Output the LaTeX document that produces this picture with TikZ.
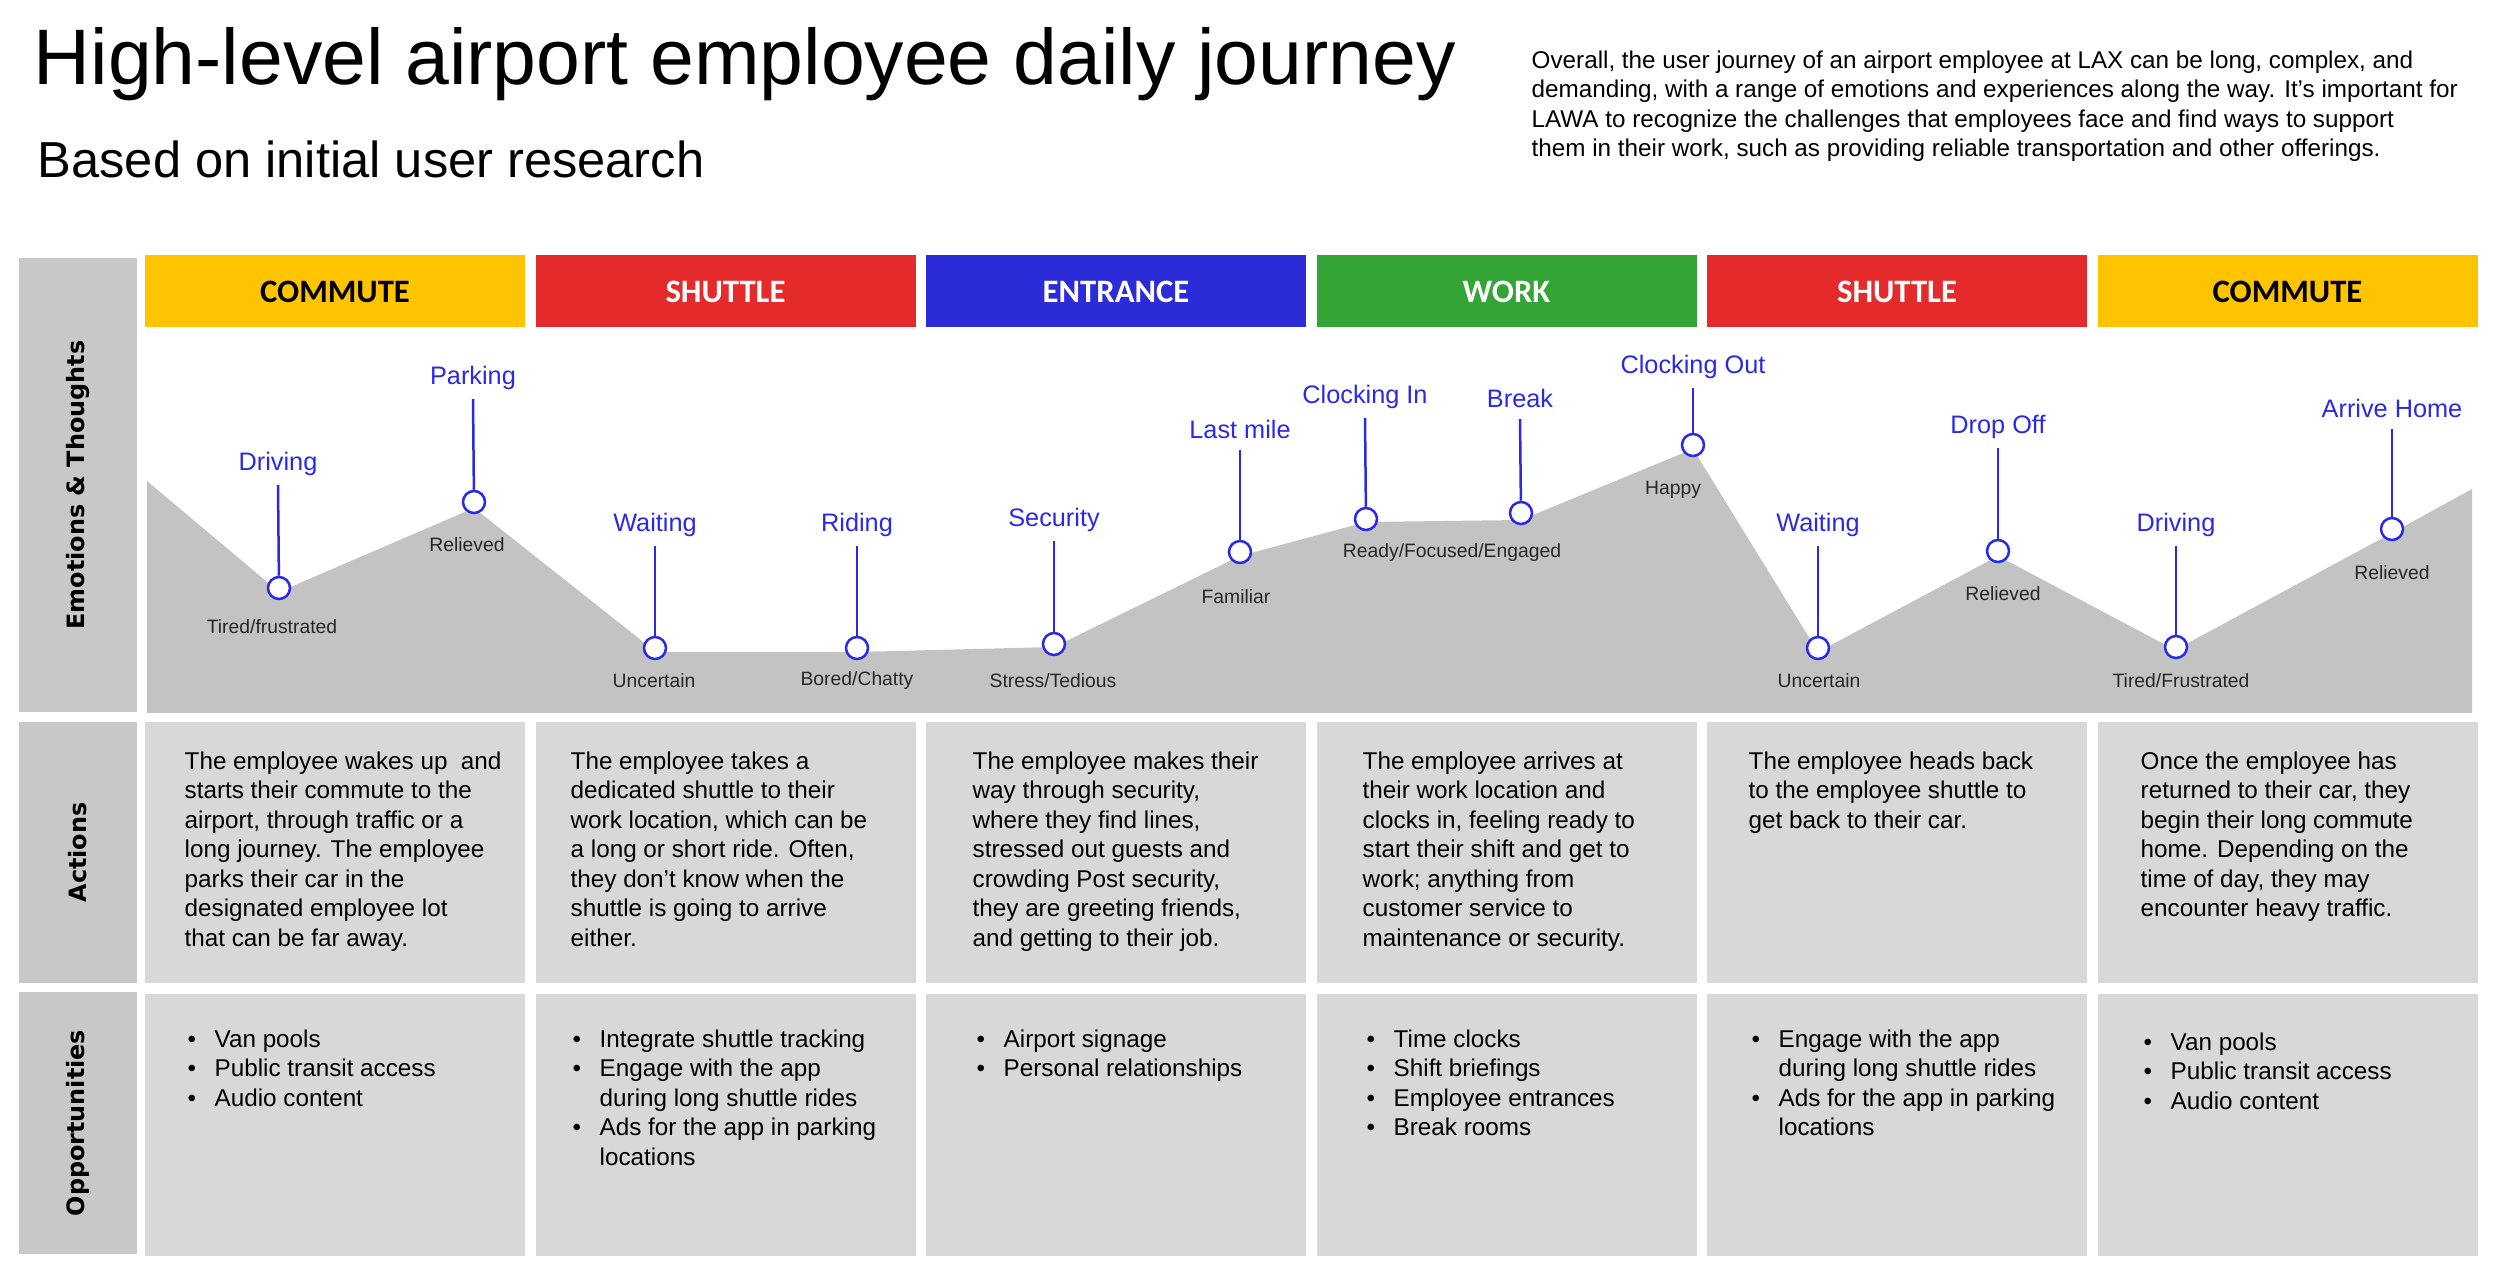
\documentclass[tikz,border=0pt]{standalone}
\usepackage{fontspec}
\setmainfont{Liberation Sans}
\newfontfamily\hdrfont{Carlito}
\newfontfamily\sidefont{DejaVu Sans}
\usetikzlibrary{calc}

\definecolor{cyellow}{HTML}{FFC400}
\definecolor{cred}{HTML}{E52A2C}
\definecolor{cblue}{HTML}{2B2BD8}
\definecolor{cgreen}{HTML}{34A436}
\definecolor{lblue}{HTML}{2A2AE6}
\definecolor{sidegrey}{HTML}{C8C8C8}
\definecolor{cellgrey}{HTML}{D8D8D8}
\definecolor{chartgrey}{HTML}{C3C3C3}

\begin{document}
\begin{tikzpicture}[x=0.1mm,y=-0.1mm,inner sep=0pt,
  hdr/.style={minimum width=38mm,minimum height=7.2mm,font=\hdrfont\bfseries\fontsize{9.3}{10}\selectfont},
  side/.style={fill=sidegrey,rotate=90,minimum height=11.8mm,font=\sidefont\bfseries\fontsize{6.8}{8}\selectfont},
  cell/.style={fill=cellgrey,minimum width=38mm,minimum height=26.15mm},
  txt/.style={anchor=north west,font=\fontsize{6.9}{8.4}\selectfont},
  lbl/.style={text=lblue,font=\fontsize{7.2}{8}\selectfont},
  emo/.style={text=black!85,font=\fontsize{5.5}{6}\selectfont},
  dot/.style={circle,draw=lblue,fill=white,line width=0.25mm,minimum size=2.2mm},
  stem/.style={draw=lblue,line width=0.25mm}]
\useasboundingbox (0,0) rectangle (2500,1287);

\node[anchor=base west,font=\fontsize{22.4}{26}\selectfont] (title) at (33,85) {High-level airport employee daily journey};
\node[anchor=base west,font=\fontsize{14.4}{16}\selectfont] (sub) at (37,178) {Based on initial user research};
\node[txt] (intro) at (1531,47) {\begin{tabular}{@{}l@{}}
Overall, the user journey of an airport employee at LAX can be long, complex, and\\
demanding, with a range of emotions and experiences along the way. It’s important for\\
LAWA to recognize the challenges that employees face and find ways to support\\
them in their work, such as providing reliable transportation and other offerings.\end{tabular}};

\node[side,minimum width=45.4mm] (s1) at (78,485) {Emotions \& Thoughts};
\node[side,minimum width=26.1mm] (s2) at (78,852.5) {Actions};
\node[side,minimum width=26.2mm] (s3) at (78,1123) {Opportunities};

\node[hdr,fill=cyellow] (h1) at (335,291.5) {COMMUTE};
\node[hdr,fill=cred,text=white] (h2) at (725.5,291.5) {SHUTTLE};
\node[hdr,fill=cblue,text=white] (h3) at (1116,291.5) {ENTRANCE};
\node[hdr,fill=cgreen,text=white] (h4) at (1506.5,291.5) {WORK};
\node[hdr,fill=cred,text=white] (h5) at (1897,291.5) {SHUTTLE};
\node[hdr,fill=cyellow] (h6) at (2287.5,291.5) {COMMUTE};

\fill[chartgrey] (147,481) -- (279,592) -- (474,508) -- (656,652) -- (856,652) -- (1054,647)
  -- (1240,556) -- (1366,522) -- (1521,520) -- (1693,449) -- (1818,652) -- (1998,556)
  -- (2175,650) -- (2392,533) -- (2472,489) -- (2472,713) -- (147,713) -- cycle;

\node[dot] (d1) at (279,588) {};
\node[dot] (d2) at (474,502) {};
\node[dot] (d3) at (655,648) {};
\node[dot] (d4) at (857,648) {};
\node[dot] (d5) at (1054,644) {};
\node[dot] (d6) at (1240,552) {};
\node[dot] (d7) at (1366,519) {};
\node[dot] (d8) at (1521,513) {};
\node[dot] (d9) at (1693,445) {};
\node[dot] (d10) at (1818,648) {};
\node[dot] (d11) at (1998,551) {};
\node[dot] (d12) at (2176,647) {};
\node[dot] (d13) at (2392,529) {};

\node[lbl] (l1) at (278,464) {Driving};
\node[lbl] (l2) at (473,378) {Parking};
\node[lbl] (l3) at (655,525) {Waiting};
\node[lbl] (l4) at (857,525) {Riding};
\node[lbl] (l5) at (1054,520) {Security};
\node[lbl] (l6) at (1240,429) {Last mile};
\node[lbl] (l7) at (1365,397) {Clocking In};
\node[lbl] (l8) at (1520,398) {Break};
\node[lbl] (l9) at (1693,367) {Clocking Out};
\node[lbl] (l10) at (1818,525) {Waiting};
\node[lbl] (l11) at (1998,427) {Drop Off};
\node[lbl] (l12) at (2176,525) {Driving};
\node[lbl] (l13) at (2392,408) {Arrive Home};

\draw[stem] ($(l1)+(0,21)$) -- (d1);
\draw[stem] ($(l2)+(0,21)$) -- (d2);
\draw[stem] ($(l3)+(0,21)$) -- (d3);
\draw[stem] ($(l4)+(0,21)$) -- (d4);
\draw[stem] ($(l5)+(0,21)$) -- (d5);
\draw[stem] ($(l6)+(0,21)$) -- (d6);
\draw[stem] ($(l7)+(0,21)$) -- (d7);
\draw[stem] ($(l8)+(0,21)$) -- (d8);
\draw[stem] ($(l9)+(0,21)$) -- (d9);
\draw[stem] ($(l10)+(0,21)$) -- (d10);
\draw[stem] ($(l11)+(0,21)$) -- (d11);
\draw[stem] ($(l12)+(0,21)$) -- (d12);
\draw[stem] ($(l13)+(0,21)$) -- (d13);

\node[emo] (e1) at (272,627) {Tired/frustrated};
\node[emo] (e2) at (467,545) {Relieved};
\node[emo] (e3) at (654,681) {Uncertain};
\node[emo] (e4) at (857,681) {Bored/Chatty};
\node[emo] (e5) at (1053,681) {Stress/Tedious};
\node[emo] (e6) at (1236,597) {Familiar};
\node[emo] (e7) at (1452,553) {Ready/Focused/Engaged};
\node[emo] (e8) at (1673,490) {Happy};
\node[emo] (e9) at (1819,681) {Uncertain};
\node[emo] (e10) at (2003,594) {Relieved};
\node[emo] (e11) at (2181,681) {Tired/Frustrated};
\node[emo] (e12) at (2392,573) {Relieved};

\node[cell] (a1) at (335,852.5) {};
\node[cell] (a2) at (725.5,852.5) {};
\node[cell] (a3) at (1116,852.5) {};
\node[cell] (a4) at (1506.5,852.5) {};
\node[cell] (a5) at (1897,852.5) {};
\node[cell] (a6) at (2287.5,852.5) {};
\node[cell] (o1) at (335,1125) {};
\node[cell] (o2) at (725.5,1125) {};
\node[cell] (o3) at (1116,1125) {};
\node[cell] (o4) at (1506.5,1125) {};
\node[cell] (o5) at (1897,1125) {};
\node[cell] (o6) at (2287.5,1125) {};

\node[txt] (t1) at (184,748) {\begin{tabular}{@{}l@{}}The employee wakes up\ \ and\\starts their commute to the\\airport, through traffic or a\\long journey. The employee\\parks their car in the\\designated employee lot\\that can be far away.\end{tabular}};
\node[txt] (t2) at (570,748) {\begin{tabular}{@{}l@{}}The employee takes a\\dedicated shuttle to their\\work location, which can be\\a long or short ride. Often,\\they don’t know when the\\shuttle is going to arrive\\either.\end{tabular}};
\node[txt] (t3) at (972,748) {\begin{tabular}{@{}l@{}}The employee makes their\\way through security,\\where they find lines,\\stressed out guests and\\crowding Post security,\\they are greeting friends,\\and getting to their job.\end{tabular}};
\node[txt] (t4) at (1362,748) {\begin{tabular}{@{}l@{}}The employee arrives at\\their work location and\\clocks in, feeling ready to\\start their shift and get to\\work; anything from\\customer service to\\maintenance or security.\end{tabular}};
\node[txt] (t5) at (1748,748) {\begin{tabular}{@{}l@{}}The employee heads back\\to the employee shuttle to\\get back to their car.\end{tabular}};
\node[txt] (t6) at (2140,748) {\begin{tabular}{@{}l@{}}Once the employee has\\returned to their car, they\\begin their long commute\\home. Depending on the\\time of day, they may\\encounter heavy traffic.\end{tabular}};

\node[txt] (p1) at (187,1026) {\begin{tabular}{@{}p{2.7mm}@{}l@{}}\textbullet & Van pools\\\textbullet & Public transit access\\\textbullet & Audio content\end{tabular}};
\node[txt] (p2) at (572,1026) {\begin{tabular}{@{}p{2.7mm}@{}l@{}}\textbullet & Integrate shuttle tracking\\\textbullet & Engage with the app\\ & during long shuttle rides\\\textbullet & Ads for the app in parking\\ & locations\end{tabular}};
\node[txt] (p3) at (976,1026) {\begin{tabular}{@{}p{2.7mm}@{}l@{}}\textbullet & Airport signage\\\textbullet & Personal relationships\end{tabular}};
\node[txt] (p4) at (1366,1026) {\begin{tabular}{@{}p{2.7mm}@{}l@{}}\textbullet & Time clocks\\\textbullet & Shift briefings\\\textbullet & Employee entrances\\\textbullet & Break rooms\end{tabular}};
\node[txt] (p5) at (1751,1026) {\begin{tabular}{@{}p{2.7mm}@{}l@{}}\textbullet & Engage with the app\\ & during long shuttle rides\\\textbullet & Ads for the app in parking\\ & locations\end{tabular}};
\node[txt] (p6) at (2143,1029) {\begin{tabular}{@{}p{2.7mm}@{}l@{}}\textbullet & Van pools\\\textbullet & Public transit access\\\textbullet & Audio content\end{tabular}};
\end{tikzpicture}
\end{document}
